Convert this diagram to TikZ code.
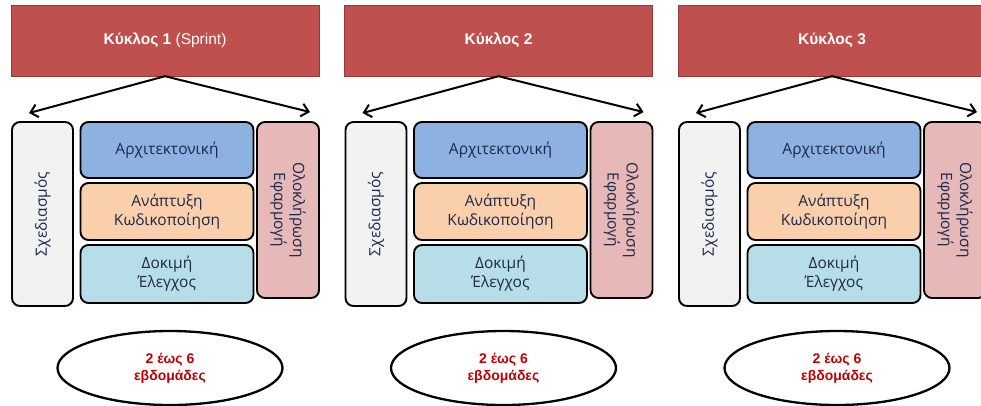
\documentclass[tikz,border=0pt]{standalone}
\usepackage{fontspec}
\setmainfont{Liberation Sans}
\newfontfamily\phasefont{Open Sans}
\usetikzlibrary{arrows.meta,shapes.geometric}

\definecolor{cyclered}{RGB}{192,80,77}
\definecolor{cycleedge}{RGB}{150,56,54}
\definecolor{phasetext}{RGB}{30,42,74}
\definecolor{planfill}{RGB}{242,242,242}
\definecolor{archfill}{RGB}{141,178,226}
\definecolor{codefill}{RGB}{250,207,172}
\definecolor{testfill}{RGB}{183,221,232}
\definecolor{integfill}{RGB}{230,184,183}
\definecolor{spanred}{RGB}{192,0,0}

\begin{document}
\begin{tikzpicture}[x=1pt,y=-1pt,
  cycle/.style={draw=cycleedge, fill=cyclered, text=white, inner sep=0pt,
    minimum width=308pt, minimum height=71pt, font=\fontsize{15.5}{18}\selectfont},
  phase/.style={draw=black, line width=1.9pt, rounded corners=8pt, inner sep=0pt,
    text=phasetext, align=center, font=\phasefont\fontsize{15.5}{19}\selectfont},
  span/.style={ellipse, draw=black, line width=2.3pt, fill=white, inner sep=0pt,
    minimum width=225pt, minimum height=74pt, align=center, text=spanred,
    font=\bfseries\fontsize{14}{17}\selectfont},
  split/.style={-{Straight Barb[length=7pt,width=13pt]}, line width=2pt}]
\clip (0,0) rectangle (981,405);
\foreach \n/\dx/\extra in {1/0/{ (Sprint)},2/333.5/{},3/667/{}} {
  \begin{scope}[xshift=\dx pt]
    \node[cycle] (cycle\n) at (165,40.5) {{\bfseries Κύκλος \n}\extra};
    \node[phase, fill=planfill, rotate=90, minimum width=184pt, minimum height=61pt]
      (plan\n) at (42.5,214) {Σχεδιασμός};
    \node[phase, fill=archfill, minimum width=173pt, minimum height=56pt]
      (arch\n) at (167,150) {Αρχιτεκτονική};
    \node[phase, fill=codefill, minimum width=173pt, minimum height=57pt]
      (code\n) at (167,211.5) {Ανάπτυξη\\Κωδικοποίηση};
    \node[phase, fill=testfill, minimum width=173pt, minimum height=58pt]
      (test\n) at (167,274) {Δοκιμή\\Έλεγχος};
    \node[phase, fill=integfill, rotate=-90, minimum width=176pt, minimum height=62pt]
      (integ\n) at (288,210) {Ολοκλήρωση\\Εφαρμογή};
    \node[span] (span\n) at (170,368) {2 έως 6\\εβδομάδες};
    \draw[split] (cycle\n.south) -- ([shift={(-13.5,-8)}]plan\n.east);
    \draw[split] (cycle\n.south) -- ([shift={(22,-9)}]integ\n.west);
  \end{scope}
}
\end{tikzpicture}
\end{document}
